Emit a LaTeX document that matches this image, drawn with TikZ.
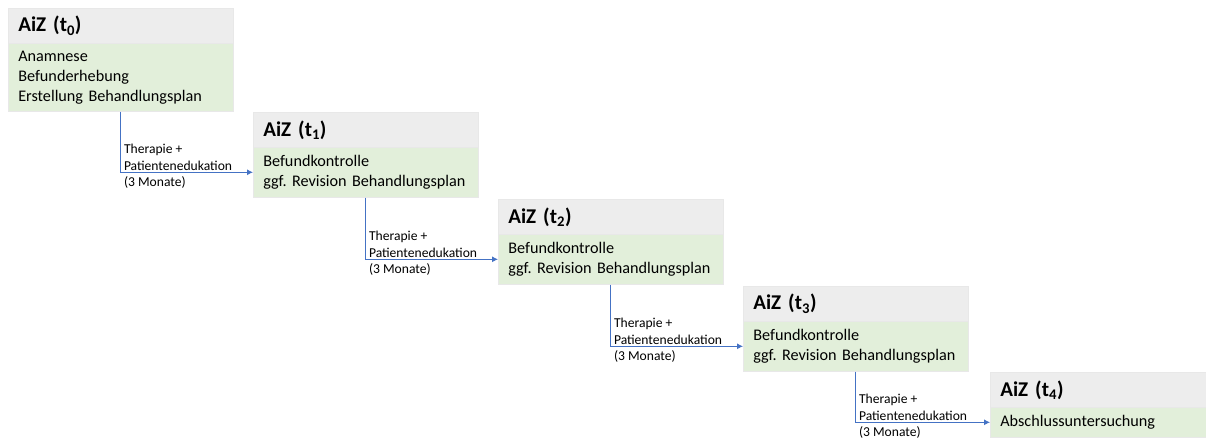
\documentclass[tikz,border=0pt]{standalone}
\usepackage{fontspec}
\setmainfont{Carlito}
\frenchspacing
\usetikzlibrary{arrows.meta}
\definecolor{hdrgray}{HTML}{EDEDED}
\definecolor{bodygreen}{HTML}{E2EFDA}
\definecolor{flowblue}{HTML}{4472C4}
\begin{document}
\begin{tikzpicture}[x=1pt,y=-1pt,
  hdrbox/.style={fill=hdrgray, draw=gray!18, line width=0.6pt, anchor=north west,
    minimum height=35pt, inner xsep=10pt, inner ysep=0pt, text width=#1, align=left,
    font=\fontsize{21}{24}\selectfont\bfseries},
  bodybox/.style 2 args={fill=bodygreen, draw=gray!18, line width=0.6pt, anchor=north west,
    minimum height=#2, inner xsep=10pt, inner ysep=0pt, text width=#1, align=left,
    font=\fontsize{16.2}{20}\selectfont},
  flowline/.style={draw=flowblue, line width=0.9pt, -{Latex[length=6pt,width=6pt]}},
  steplabel/.style={anchor=west, inner sep=0pt, align=left,
    font=\fontsize{13.6}{16.5}\selectfont}
]
\useasboundingbox (0,0) rectangle (1206,437);

% stage boxes: grey heading on top of a green body
\node[hdrbox=205pt] (h0) at (8,8) {AiZ (t\textsubscript{0})};
\node[bodybox={205pt}{68pt}] (b0) at (8,43) {Anamnese\\Befunderhebung\\Erstellung Behandlungsplan};

\node[hdrbox=205pt] (h1) at (253,112) {AiZ (t\textsubscript{1})};
\node[bodybox={205pt}{50pt}] (b1) at (253,147) {Befundkontrolle\\ggf. Revision Behandlungsplan};

\node[hdrbox=205pt] (h2) at (498,199) {AiZ (t\textsubscript{2})};
\node[bodybox={205pt}{50pt}] (b2) at (498,234) {Befundkontrolle\\ggf. Revision Behandlungsplan};

\node[hdrbox=205pt] (h3) at (743,286) {AiZ (t\textsubscript{3})};
\node[bodybox={205pt}{50pt}] (b3) at (743,321) {Befundkontrolle\\ggf. Revision Behandlungsplan};

\node[hdrbox=196pt] (h4) at (990,372) {AiZ (t\textsubscript{4})};
\node[bodybox={196pt}{30pt}] (b4) at (990,407) {Abschlussuntersuchung};

% elbow connectors between consecutive stages, with their labels
\foreach \a/\b in {0/1,1/2,2/3,3/4}{
  \draw[flowline] (b\a.south) |- (b\b.west);
  \node[steplabel] (l\a) at ([xshift=3pt,yshift=6pt]b\a.south |- b\b.west)
    {Therapie +\\Patientenedukation\\(3 Monate)};
}
\end{tikzpicture}
\end{document}
